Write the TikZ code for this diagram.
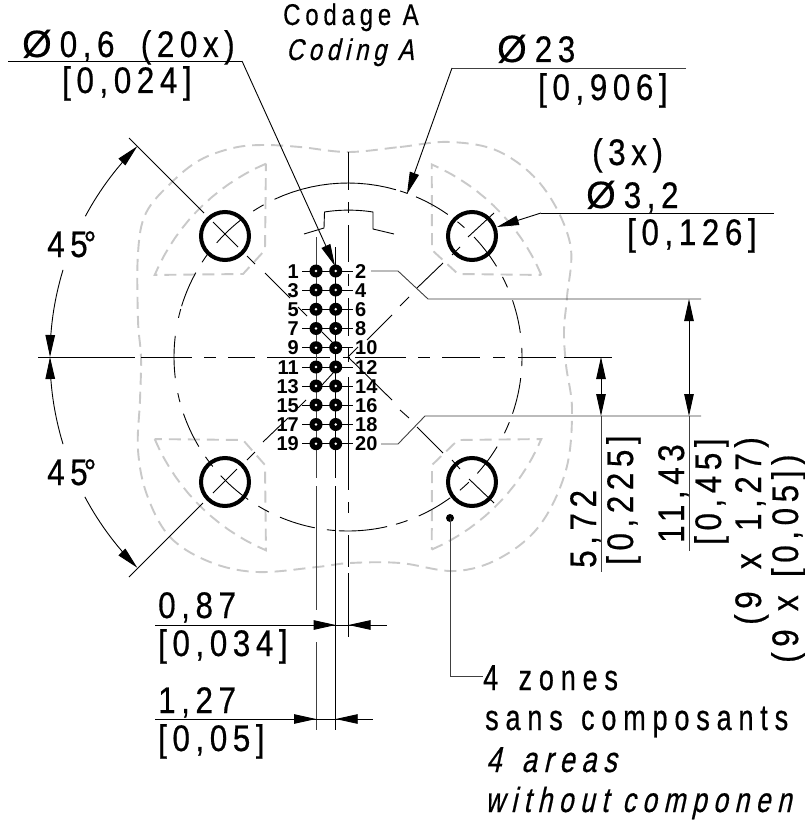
\documentclass[tikz,border=0pt]{standalone}
\usepackage{fontspec}
\usetikzlibrary{arrows.meta}
\setmainfont{Liberation Sans}
\newfontfamily\cadfont[FakeStretch=.85,LetterSpace=15,FakeBold=.5]{Liberation Sans}
\newfontfamily\notefont[FakeStretch=.75,LetterSpace=19,FakeBold=.5]{Liberation Sans}
\newfontfamily\noteslant[FakeStretch=.75,LetterSpace=19,FakeBold=.5,FakeSlant=.22]{Liberation Sans}
\newfontfamily\midfont[FakeStretch=.8,LetterSpace=16,FakeBold=.4]{Liberation Sans}
\newfontfamily\midslant[FakeStretch=.8,LetterSpace=16,FakeBold=.4,FakeSlant=.22]{Liberation Sans}
\newfontfamily\diafont[FakeBold=.4]{Liberation Sans}
\newfontfamily\pinfont{Liberation Sans Bold}
\newcommand{\bigcad}{\fontsize{37}{42}\cadfont}
\newcommand{\notecad}{\fontsize{36}{42}\notefont}
\newcommand{\noteit}{\fontsize{36}{42}\noteslant}
\newcommand{\noteitb}{\fontsize{35}{42}\noteslant}
\newcommand{\midcad}{\fontsize{30}{34}\midfont}
\newcommand{\midit}{\fontsize{30}{34}\midslant}
\newcommand{\dia}{{\fontsize{38}{42}\diafont Ø}\hspace{8pt}}
\tikzset{
  x=1pt,y=-1pt,
  fine/.style={line width=.9pt,black},
  shaft/.style={line width=.9pt,black!75},
  ghost/.style={line width=1.9pt,black!21,dash pattern=on 12pt off 7pt},
  hole/.style={line width=4pt,black},
  head/.style={-{Triangle[length=22pt,width=9.5pt]}},
  heads/.style={{Triangle[length=22pt,width=9.5pt]}-{Triangle[length=22pt,width=9.5pt]}},
  lbl/.style={inner sep=0pt,anchor=base west},
  vlbl/.style={inner sep=0pt,anchor=base west,rotate=90},
  pinl/.style={inner sep=0pt,font=\fontsize{20}{22}\pinfont,anchor=base east},
  pinr/.style={inner sep=0pt,font=\fontsize{20}{22}\pinfont,anchor=base west},
}
\begin{document}
\begin{tikzpicture}
\useasboundingbox (0,0) rectangle (805,832);
\fill[white] (0,0) rectangle (805,832);
% grey keep-out outline
\draw[ghost] plot[smooth cycle,tension=.6] coordinates {(348,152)(400,147)(450,142)(500,152)(543,187)(570,243)(567,297)(564,330)(566,365)(572,410)(566,470)(540,525)(500,558)(455,571)(400,563)(350,563)(317,567)(257,572)(210,562)(170,537)(147,495)(138,450)(140,400)(141,357)(138,320)(138,253)(146,213)(172,182)(200,160)(233,148)(263,145)(300,147)};
% grey sectors
\draw[ghost] plot[domain=113:157,samples=16] ({348+210*cos(\x)},{357-210*sin(\x)}) -- (243,274) -- (265,250) -- cycle;
\draw[ghost] plot[domain=23:66.5,samples=16] ({348+210*cos(\x)},{357-210*sin(\x)}) -- (432,250) -- (458,274) -- cycle;
\draw[ghost] plot[domain=-157:-113,samples=16] ({348+210*cos(\x)},{357-210*sin(\x)}) -- (265,465) -- (243,440) -- cycle;
\draw[ghost] plot[domain=-66.5:-23,samples=16] ({348+210*cos(\x)},{357-210*sin(\x)}) -- (458,440) -- (432,465) -- cycle;
% chain circle
\foreach \a/\b in {74/115,70/72.6,55/67,48/51,31.4/43.6,23.6/27.4,8/19,-3/3,-19/-7,-26/-22,-42/-31,-50/-46,-66/-54,-74/-70,-93/-77,-97/-94,-113/-101,-121/-117,-137/-125,-145/-141,-161/-149,-168/-165,173/187,164/167,151/163,144/147,128/139,119/123}
  \draw[fine] plot[domain=\a:\b,samples=14] ({348+174*cos(\x)},{357-174*sin(\x)});
% key
\draw[fine] (304,234) -- (324,228) -- (324.5,212) .. controls (340,209.5) and (357,209.5) .. (373,212) -- (373,229) -- (394,234);
% centre lines
\foreach \p/\q in {38/135,141/192,204/216,228/255,267/330,343/350,355/406,418/430,442/480,493/505,518/556,564/612}
  \draw[fine] (\p,357) -- (\q,357);
\foreach \p/\q in {152/190,202/213,225/262,274/286,298/336,348/362,377/490,502/513,535/567,573/637}
  \draw[fine] (348.5,\p) -- (348.5,\q);
% diagonals
\foreach \a/\b/\c/\d in {129/138/204/213,213/222/238/247,247/256/255/264,265/273/290/298,298/307/307/316,322/332/333/343,348/357/392/400,400/410/409/418,417/427/443/453,452/460/460/469,469/479/494/503,
 468/237/494/213,452/255/460/247,417/288/443/263,400/306/409/297,367/340/392/315,348/357/358/347,322/385/333/373,298/408/306/400,263/442/288/418,247/460/255/452,213/493/237/469,129/577/203/503}
  \draw[fine] (\a,\b) -- (\c,\d);
% pin rows and columns
\foreach \y in {271,290,309.3,328.5,347.7,367,386,405,424.5,443.7}
  \draw[fine] (302,\y) -- (353,\y);
\foreach \p/\q in {237/478,486/610,642/730} \draw[shaft] (316,\p) -- (316,\q);
\foreach \p/\q in {247/478,486/730} \draw[fine] (335.7,\p) -- (335.7,\q);
% mounting holes
\node[draw,hole,circle,minimum size=48pt,inner sep=0pt] (h1) at (225,236) {};
\node[draw,hole,circle,minimum size=48pt,inner sep=0pt] (h2) at (472,236) {};
\node[draw,hole,circle,minimum size=48pt,inner sep=0pt] (h3) at (225,482) {};
\node[draw,hole,circle,minimum size=48pt,inner sep=0pt] (h4) at (472,482) {};
% pins
\foreach \n/\y in {1/271,3/290,5/309.3,7/328.5,9/347.7,11/367,13/386,15/405,17/424.5,19/443.7}{
  \fill[black] (316,\y) circle[radius=6.5];
  \fill[white] (316,\y) circle[radius=1.4];
  \node[pinl] (L\n) at (299,\y+7) {\n};
}
\foreach \n/\y in {2/271,4/290,6/309.3,8/328.5,10/347.7,12/367,14/386,16/405,18/424.5,20/443.7}{
  \fill[black] (335.7,\y) circle[radius=6.5];
  \fill[white] (335.7,\y) circle[radius=1.4];
  \node[pinr] (R\n) at (355,\y+7) {\n};
}
% leaders
\draw[fine] (8,61) -- (242,61);
\draw[fine,head] (242,61) -- (335,266);
\draw[shaft] (686,68) -- (452,68);
\draw[fine,head] (452,68) -- (407,194);
\draw[fine] (774,213) -- (541,213);
\draw[fine,head] (541,213) -- (497,227);
\draw[shaft] (371,271) -- (398,271) -- (428,299) -- (701,299);
\draw[shaft] (381,444) -- (398,444) -- (425,416) -- (701,416);
\draw[fine] (564,357) -- (612,357);
% vertical dimensions
\draw[shaft] (601,416) -- (601,572);
\draw[shaft] (689,416) -- (689,551);
\draw[fine,heads] (601,357) -- (601,416);
\draw[fine,heads] (689,299) -- (689,416);
% horizontal dimensions
\draw[fine] (155,625) -- (387,625);
\draw[fine] (155,719) -- (373,719);
\draw[fine,head] (300,625) -- (335.7,625);
\draw[fine,head] (385,625) -- (348.5,625);
\draw[fine,head] (280,719) -- (316,719);
\draw[fine,head] (372,719) -- (335.7,719);
% angle dimensions
\draw[fine,head] plot[domain=151.8:135,samples=16] ({348+298*cos(\x)},{357-298*sin(\x)});
\draw[fine,head] plot[domain=163:180,samples=16] ({348+298*cos(\x)},{357-298*sin(\x)});
\draw[fine,head] plot[domain=197:180,samples=16] ({348+298*cos(\x)},{357-298*sin(\x)});
\draw[fine,head] plot[domain=208:225,samples=16] ({348+298*cos(\x)},{357-298*sin(\x)});
% note leader
\fill[black] (450,518) circle[radius=4];
\draw[shaft] (450,518) -- (450,676) -- (483,676);
% texts
\node[lbl,font=\midcad] (t1) at (283,25) {Codage A};
\node[lbl,font=\midit] (t2) at (286,60) {Coding A};
\node[lbl,font=\bigcad] (t3) at (22,57) {\dia 0,6\hspace{12pt} (20x)};
\node[lbl,font=\bigcad] (t4) at (62,93) {[0,024]};
\node[lbl,font=\bigcad] (t5) at (497,62) {\dia 23};
\node[lbl,font=\bigcad] (t6) at (538,100) {[0,906]};
\node[lbl,font=\bigcad] (t7) at (592,165) {(3x)};
\node[lbl,font=\bigcad] (t8) at (586,208) {\dia 3,2};
\node[lbl,font=\bigcad] (t9) at (627,245) {[0,126]};
\node[lbl,font=\bigcad] (t10) at (47,257) {45\hspace{-4pt}°};
\node[lbl,font=\bigcad] (t11) at (47,485) {45\hspace{-4pt}°};
\node[lbl,font=\bigcad] (t12) at (158,618) {0,87};
\node[lbl,font=\bigcad] (t13) at (158,656) {[0,034]};
\node[lbl,font=\bigcad] (t14) at (158,713) {1,27};
\node[lbl,font=\bigcad] (t15) at (158,751) {[0,05]};
\node[lbl,font=\notecad] (t16) at (483,690) {4\hspace{6pt} zones};
\node[lbl,font=\notecad] (t17) at (485,730) {sans\hspace{4pt} composants};
\node[lbl,font=\noteit] (t18) at (486,772) {4\hspace{6pt} areas};
\node[lbl,font=\noteitb] (t19) at (485,812) {without componen};
\node[vlbl,font=\bigcad] (t20) at (596,568) {5,72};
\node[vlbl,font=\bigcad] (t21) at (633,565) {[0,225]};
\node[vlbl,font=\bigcad] (t22) at (684,543) {11,43};
\node[vlbl,font=\bigcad] (t23) at (721,545) {[0,45]};
\node[vlbl,font=\bigcad] (t24) at (761,625) {(9\hspace{8pt} x\hspace{8pt} 1,27)};
\node[vlbl,font=\bigcad] (t25) at (798,663) {(9\hspace{4pt} x\hspace{4pt} [0,05])};
\end{tikzpicture}
\end{document}
